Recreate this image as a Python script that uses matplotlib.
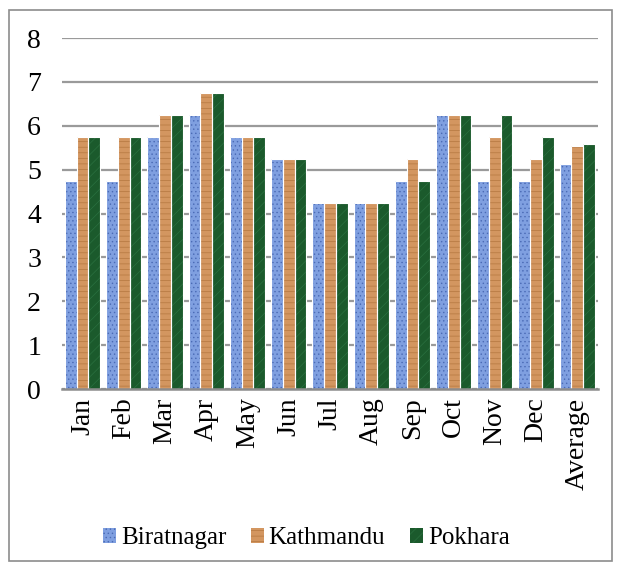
import matplotlib
matplotlib.use("Agg")
import matplotlib.pyplot as plt
from matplotlib.patches import Rectangle
import numpy as np

months = ["Jan", "Feb", "Mar", "Apr", "May", "Jun", "Jul", "Aug", "Sep",
          "Oct", "Nov", "Dec", "Average"]
biratnagar = [4.75, 4.75, 5.75, 6.25, 5.75, 5.25, 4.25, 4.25, 4.75, 6.25, 4.75, 4.75, 5.12]
kathmandu = [5.75, 5.75, 6.25, 6.75, 5.75, 5.25, 4.25, 4.25, 5.25, 6.25, 5.75, 5.25, 5.54]
pokhara = [5.75, 5.75, 6.25, 6.75, 5.75, 5.25, 4.25, 4.25, 4.75, 6.25, 6.25, 5.75, 5.58]
yticks = [0, 1, 2, 3, 4, 5, 6, 7, 8]

plt.rcParams["font.family"] = ["Liberation Serif", "DejaVu Serif"]

fig = plt.figure(figsize=(6.19, 5.68), dpi=100)
# outer chart border
fig.patches.append(Rectangle((0.014, 0.012), 0.975, 0.97, transform=fig.transFigure,
                             fill=False, edgecolor="#8c8c8c", linewidth=1.2))

ax = fig.add_axes([0.100, 0.315, 0.866, 0.618])

x = np.arange(len(months))
w = 0.285
series = [
    ("Biratnagar", biratnagar, "#7f9fe0", "#4a6ab5", "...."),
    ("Kathmandu", kathmandu, "#d39660", "#b4773f", "---"),
    ("Pokhara", pokhara, "#1b5a2c", "#2a7040", "///"),
]
plt.rcParams["hatch.linewidth"] = 0.5
for i, (name, vals, col, hcol, hatch) in enumerate(series):
    ax.bar(x + (i - 1) * w, vals, width=w, color=col, label=name,
           edgecolor=hcol, linewidth=0, hatch=hatch, zorder=3)
    # white separators
    ax.bar(x + (i - 1) * w, vals, width=w, fill=False, edgecolor="white",
           linewidth=0.8, zorder=4)

ax.set_ylim(0, 8)
ax.set_xlim(-0.5, len(months) - 0.5)
ax.set_yticks(yticks)
ax.set_xticks(x)
ax.set_xticklabels(months, rotation=90, fontsize=20)
ax.tick_params(axis="y", labelsize=20, length=0, pad=25)
ax.tick_params(axis="x", length=0, pad=6)
ax.grid(axis="y", color="#9a9a9a", linewidth=1.6, zorder=0)
for s in ["top", "right", "left"]:
    ax.spines[s].set_visible(False)
ax.spines["bottom"].set_color("#8c8c8c")
ax.spines["bottom"].set_linewidth(1.8)
ax.spines["bottom"].set_zorder(5)
for lbl in ax.get_yticklabels():
    lbl.set_horizontalalignment("left")

handles, labels = ax.get_legend_handles_labels()
fig.legend(handles[:3], labels[:3], loc="center", bbox_to_anchor=(0.495, 0.052),
           ncol=3, frameon=False, fontsize=18, handlelength=0.5, handleheight=0.5,
           handletextpad=0.2, columnspacing=1.0)

fig.savefig("out.png", dpi=100)
